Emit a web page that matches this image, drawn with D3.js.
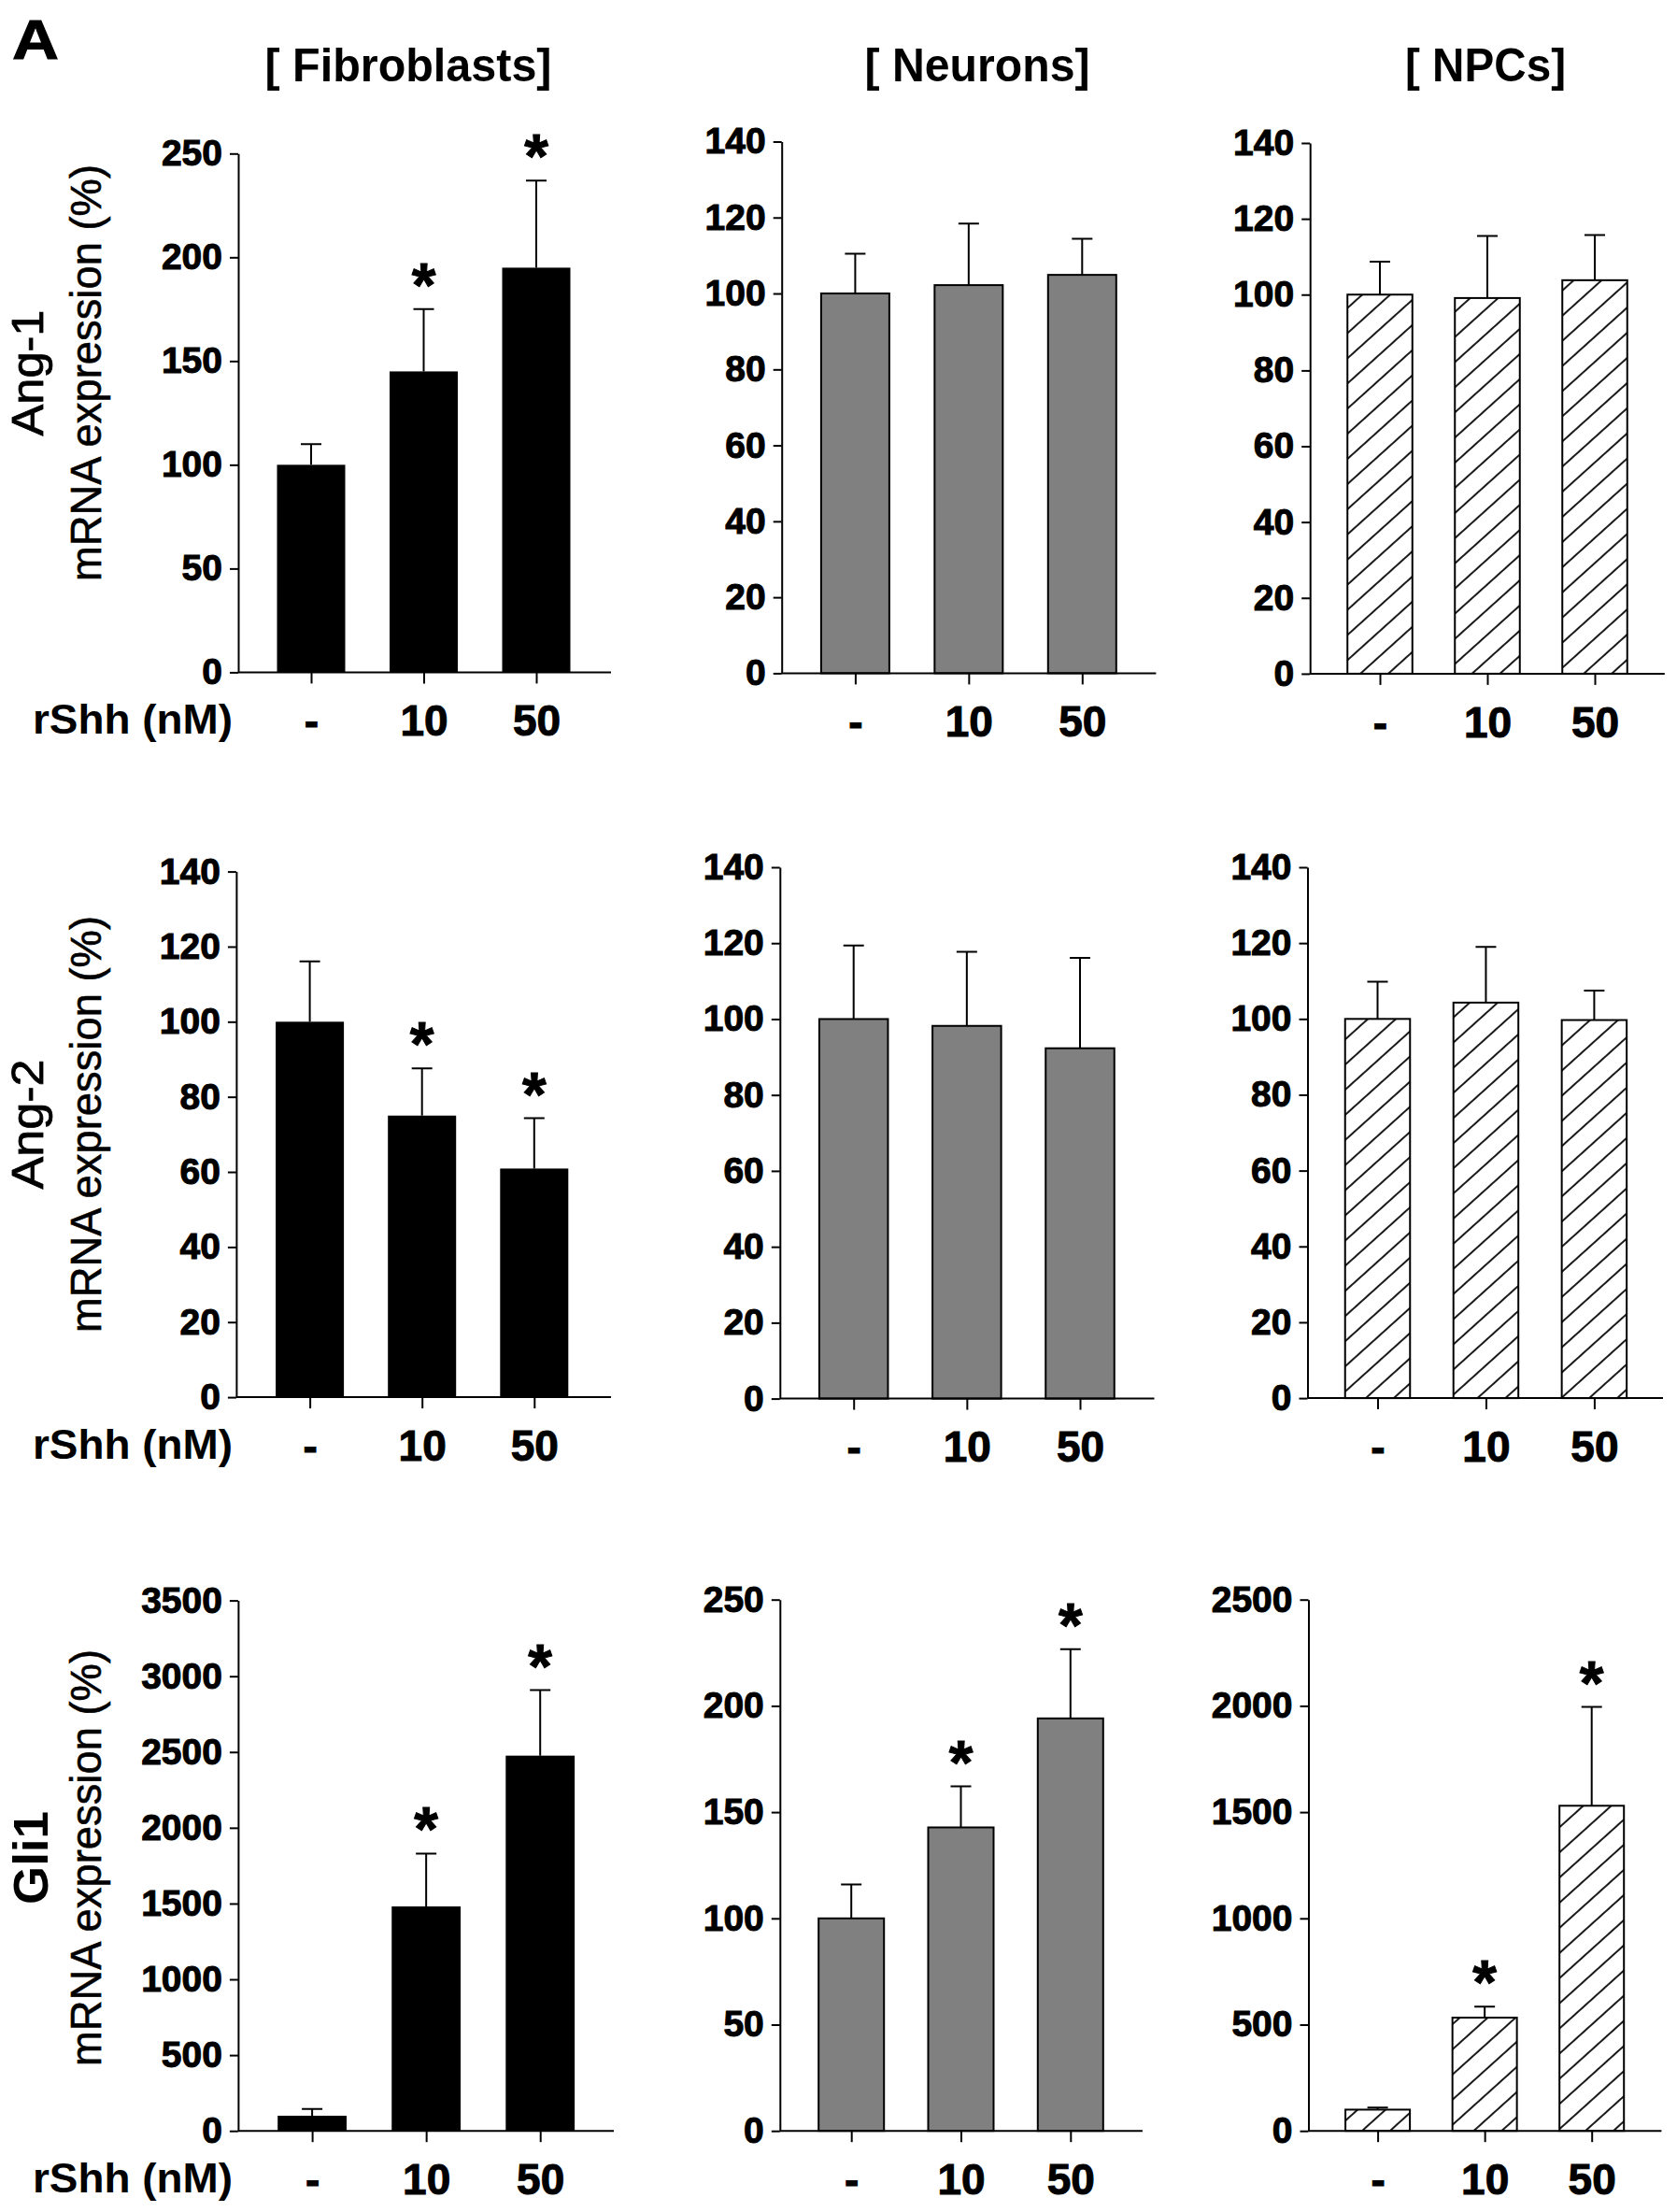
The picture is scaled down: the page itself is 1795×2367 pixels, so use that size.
<!DOCTYPE html>
<html>
<head>
<meta charset="utf-8">
<script src="https://cdn.jsdelivr.net/npm/d3@7"></script>
<style>
    body { margin: 0; background: #fff; }
    svg text { font-family: "Liberation Sans", Arial, Helvetica, sans-serif; }
    .heavy { stroke: #000; stroke-width: 1px; }
</style>
</head>
<body>
<svg id="chart" width="1795" height="2367"></svg>
<script>
// ---- data ----
const doses = ["-", "10", "50"];
const cellTypes = ["[ Fibroblasts]", "[ Neurons]", "[ NPCs]"];
const genes = ["Ang-1", "Ang-2", "Gli1"];

// mean and SEM (%), one array per panel
const ang1Fibro = [100, 145, 195],    ang1FibroSem = [10, 30, 42];
const ang1Neuron = [100, 102.2, 104.9], ang1NeuronSem = [10.5, 16.2, 9.5];
const ang1Npc = [100, 99.1, 103.8],   ang1NpcSem = [8.7, 16.4, 11.9];
const ang2Fibro = [100, 75, 60.9],    ang2FibroSem = [16.1, 12.6, 13.4];
const ang2Neuron = [100, 98.2, 92.3], ang2NeuronSem = [19.4, 19.5, 23.8];
const ang2Npc = [100, 104.3, 99.7],   ang2NpcSem = [9.8, 14.7, 7.8];
const gli1Fibro = [100, 1481, 2476],  gli1FibroSem = [44, 349, 432];
const gli1Neuron = [100, 142.8, 194.1], gli1NeuronSem = [16, 19.3, 32.6];
const gli1Npc = [100, 533, 1530],     gli1NpcSem = [10, 52, 465];

// significance stars
const starsNone = [false, false, false];
const starsUp = [false, true, true];

// y axis ranges and tick steps
const yMaxes = [250, 140, 140, 140, 140, 140, 3500, 250, 2500];
const ySteps = [50, 20, 20, 20, 20, 20, 500, 50, 500];

const panels = [
    { mean: ang1Fibro, sem: ang1FibroSem, stars: starsUp, type: 0 },
    { mean: ang1Neuron, sem: ang1NeuronSem, stars: starsNone, type: 1 },
    { mean: ang1Npc, sem: ang1NpcSem, stars: starsNone, type: 2 },
    { mean: ang2Fibro, sem: ang2FibroSem, stars: starsUp, type: 0 },
    { mean: ang2Neuron, sem: ang2NeuronSem, stars: starsNone, type: 1 },
    { mean: ang2Npc, sem: ang2NpcSem, stars: starsNone, type: 2 },
    { mean: gli1Fibro, sem: gli1FibroSem, stars: starsUp, type: 0 },
    { mean: gli1Neuron, sem: gli1NeuronSem, stars: starsUp, type: 1 },
    { mean: gli1Npc, sem: gli1NpcSem, stars: starsUp, type: 2 }
];

// ---- layout (pixels) ----
const layout = [
    { x0: 255, x1: 654, c1: 333, c3: 574, bw: 73, top: 164.3, bot: 719.4 },
    { x0: 836.7, x1: 1237.4, c1: 915.4, c3: 1158.3, bw: 73, top: 151.5, bot: 720.4 },
    { x0: 1402.2, x1: 1781.8, c1: 1477, c3: 1707, bw: 69.5, top: 153, bot: 720.9 },
    { x0: 252.9, x1: 654, c1: 331.6, c3: 571.8, bw: 73, top: 932.6, bot: 1495.1 },
    { x0: 834.8, x1: 1235.5, c1: 913.7, c3: 1156, bw: 73.5, top: 928, bot: 1496.6 },
    { x0: 1399.5, x1: 1780, c1: 1474.5, c3: 1706.4, bw: 69.5, top: 928, bot: 1496.1 },
    { x0: 254.9, x1: 657, c1: 334.1, c3: 578.2, bw: 73.8, top: 1712.6, bot: 2280.2 },
    { x0: 834.8, x1: 1222.9, c1: 911.2, c3: 1145.8, bw: 70, top: 1711.7, bot: 2280.2 },
    { x0: 1400.5, x1: 1778.4, c1: 1474.6, c3: 1703.7, bw: 69, top: 1711.7, bot: 2280.2 }
];

const fills = ["#000000", "#808080", "url(#hatch)"];
const capW = 22;

const svg = d3.select("#chart");

// diagonal hatch for NPC bars
const defs = svg.append("defs");
defs.append("pattern")
    .attr("id", "hatch")
    .attr("patternUnits", "userSpaceOnUse")
    .attr("width", 20)
    .attr("height", 20)
    .attr("patternTransform", "rotate(-42)")
    .call(p => {
        p.append("rect").attr("width", 20).attr("height", 20).attr("fill", "#fff");
        p.append("line")
            .attr("x1", 0).attr("x2", 20)
            .attr("y1", 10).attr("y2", 10)
            .attr("stroke", "#000")
            .attr("stroke-width", 1.8);
    });

panels.forEach((p, i) => {
    const L = layout[i];
    const g = svg.append("g");

    const y = d3.scaleLinear().domain([0, yMaxes[i]]).range([L.bot, L.top]);
    const x = d3.scalePoint().domain(doses).range([L.c1, L.c3]);

    const rows = doses.map((d, k) => ({ dose: d, mean: p.mean[k], sem: p.sem[k], star: p.stars[k] }));

    // bars
    g.selectAll(".bar")
        .data(rows)
        .join("rect")
        .attr("class", "bar")
        .attr("x", d => x(d.dose) - L.bw / 2)
        .attr("width", L.bw)
        .attr("y", d => y(d.mean))
        .attr("height", d => y(0) - y(d.mean))
        .attr("fill", fills[p.type])
        .attr("stroke", "#000")
        .attr("stroke-width", p.type === 0 ? 0 : 2);

    // upper error bars
    g.selectAll(".err")
        .data(rows)
        .join("path")
        .attr("class", "err")
        .attr("d", d => {
            const cx = x(d.dose), t = y(d.mean + d.sem);
            return `M${cx},${y(d.mean)}V${t}M${cx - capW / 2},${t}H${cx + capW / 2}`;
        })
        .attr("fill", "none")
        .attr("stroke", "#000")
        .attr("stroke-width", 2);

    // stars
    g.selectAll(".star")
        .data(rows.filter(d => d.star))
        .join("text")
        .attr("class", "star heavy")
        .attr("x", d => x(d.dose))
        .attr("y", d => y(d.mean + d.sem) - 3)
        .attr("text-anchor", "middle")
        .attr("font-size", 66)
        .attr("font-weight", "bold")
        .text("*");

    // y axis
    const yAxis = g.append("g")
        .attr("transform", `translate(${L.x0},0)`)
        .call(d3.axisLeft(y)
            .tickValues(d3.range(0, yMaxes[i] + 1, ySteps[i]))
            .tickFormat(d3.format("d"))
            .tickSize(9)
            .tickSizeOuter(0)
            .tickPadding(8));
    yAxis.selectAll("text")
        .attr("class", "heavy")
        .attr("font-size", 39)
        .attr("font-weight", "bold")
        .attr("fill", "#000")
        .style("font-family", "'Liberation Sans', Arial, sans-serif");

    // x axis
    const xAxis = g.append("g")
        .attr("transform", `translate(0,${L.bot})`)
        .call(d3.axisBottom(x).tickSize(12).tickSizeOuter(0).tickPadding(23));
    xAxis.select(".domain").remove();
    xAxis.append("line")
        .attr("x1", L.x0).attr("x2", L.x1)
        .attr("stroke", "#000");
    xAxis.selectAll("text")
        .attr("class", "heavy")
        .attr("font-size", 46)
        .attr("font-weight", "bold")
        .attr("fill", "#000")
        .style("font-family", "'Liberation Sans', Arial, sans-serif");

    svg.selectAll(".domain, .tick line").attr("stroke-width", 2).attr("stroke", "#000");
    xAxis.selectAll("line").attr("stroke-width", 2);
});

// column titles
const titleX = [437, 1046, 1590];
const titleLen = [307, 241, 172];
svg.selectAll(".title")
    .data(cellTypes)
    .join("text")
    .attr("class", "title")
    .attr("x", (d, i) => titleX[i])
    .attr("y", 86.7)
    .attr("text-anchor", "middle")
    .attr("font-size", 50)
    .attr("font-weight", "bold")
    .attr("textLength", (d, i) => titleLen[i])
    .attr("lengthAdjust", "spacingAndGlyphs")
    .text(d => d);

// panel letter
svg.append("text")
    .attr("class", "heavy")
    .attr("x", 13)
    .attr("y", 63)
    .attr("font-size", 60)
    .attr("font-weight", "bold")
    .attr("textLength", 50)
    .attr("lengthAdjust", "spacingAndGlyphs")
    .text("A");

// row labels
const rowCenter = [399, 1203, 1988];
const geneLen = [135, 139, 100];
genes.forEach((gname, r) => {
    const bold = r === 2;
    svg.append("text")
        .attr("transform", `translate(${bold ? 51 : 46},${rowCenter[r]}) rotate(-90)`)
        .attr("text-anchor", "middle")
        .attr("font-size", bold ? 52 : 48)
        .attr("font-weight", bold ? "bold" : "normal")
        .attr("stroke", bold ? "none" : "#000")
        .attr("stroke-width", 0.8)
        .attr("textLength", geneLen[r])
        .attr("lengthAdjust", "spacingAndGlyphs")
        .text(gname);

    svg.append("text")
        .attr("transform", `translate(108,${rowCenter[r]}) rotate(-90)`)
        .attr("text-anchor", "middle")
        .attr("font-size", 46)
        .attr("stroke", "#000")
        .attr("stroke-width", 0.6)
        .attr("textLength", 446)
        .attr("lengthAdjust", "spacingAndGlyphs")
        .text("mRNA expression (%)");

    svg.append("text")
        .attr("x", 249)
        .attr("y", layout[r * 3].bot + 66)
        .attr("text-anchor", "end")
        .attr("font-size", 45)
        .attr("font-weight", "bold")
        .attr("textLength", 214)
        .attr("lengthAdjust", "spacingAndGlyphs")
        .text("rShh (nM)");
});
</script>
</body>
</html>
